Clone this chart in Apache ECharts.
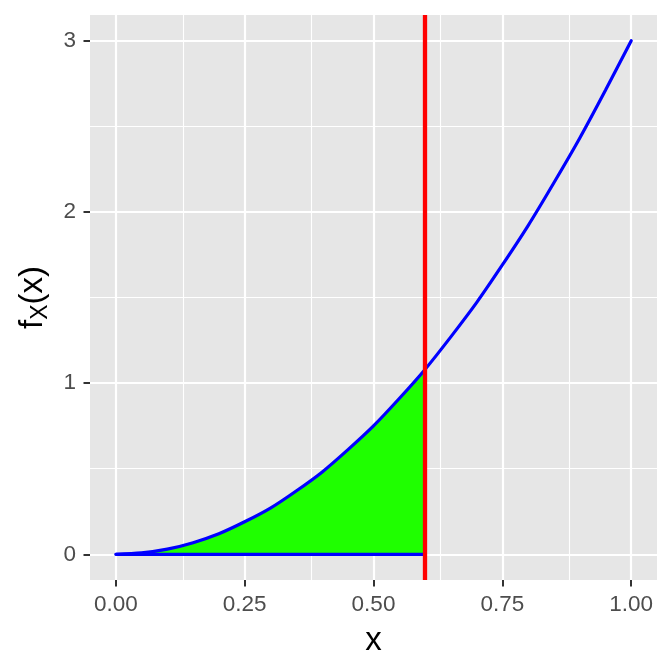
<!DOCTYPE html>
<html lang="en">
<head>
  <meta charset="UTF-8" />
  <title>f_X(x)</title>
  <script src="https://cdn.jsdelivr.net/npm/echarts@6/dist/echarts.min.js"></script>
  <style>
    html, body { margin: 0; padding: 0; background: #fff; }
    #chart { width: 672px; height: 672px; }
  </style>
</head>
<body>
  <div id="chart"></div>
<script type="text/javascript">
  // density curve
  var curveX = [0, 0.05, 0.1, 0.15, 0.2, 0.25, 0.3, 0.35, 0.4, 0.45, 0.5,
                0.55, 0.6, 0.65, 0.7, 0.75, 0.8, 0.85, 0.9, 0.95, 1.0];
  var curveY = [0, 0.008, 0.03, 0.068, 0.12, 0.19, 0.27, 0.37, 0.48, 0.61, 0.75,
                0.91, 1.08, 1.27, 1.47, 1.69, 1.92, 2.17, 2.43, 2.71, 3.0];
  // shaded part up to the cut
  var cutX = 0.6;
  var xTicks = [0, 0.25, 0.5, 0.75, 1];
  var xMinor = [0.125, 0.375, 0.625, 0.875];
  var yTicks = [0, 1, 2, 3];
  var yMinor = [0.5, 1.5, 2.5];

  var chart = echarts.init(document.getElementById('chart'));

  var curveData = curveX.map(function (x, i) { return [x, curveY[i]]; });
  var areaData = curveData.filter(function (p) { return p[0] <= cutX + 1e-9; });
  var baseData = [[0, 0], [cutX, 0]];

  // grid lines as mark lines, so they sit on the ggplot breaks
  var gridLines = []
    .concat(xMinor.map(function (v) { return { xAxis: v, lineStyle: { width: 1.1 } }; }))
    .concat(yMinor.map(function (v) { return { yAxis: v, lineStyle: { width: 1.1 } }; }))
    .concat(xTicks.map(function (v) { return { xAxis: v, lineStyle: { width: 2.2 } }; }))
    .concat(yTicks.map(function (v) { return { yAxis: v, lineStyle: { width: 2.2 } }; }));

  var fontFam = 'Liberation Sans, Arial, sans-serif';
  var tickFont = { color: '#4d4d4d', fontSize: 22.5, fontFamily: fontFam };

  var option = {
    animation: false,
    grid: {
      left: 90, top: 15, width: 567, height: 565,
      show: true, backgroundColor: '#e6e6e6', borderWidth: 0
    },
    xAxis: {
      type: 'value',
      min: -0.05, max: 1.05,
      name: 'x',
      nameLocation: 'middle',
      nameGap: 44,
      nameTextStyle: { color: '#000', fontSize: 33, fontFamily: fontFam },
      axisLine: { show: true, onZero: false, lineStyle: { color: 'rgba(0,0,0,0)' } },
      splitLine: { show: false },
      axisTick: { show: true, length: 6.5, customValues: xTicks, lineStyle: { color: '#333', width: 2 } },
      axisLabel: Object.assign({ customValues: xTicks, margin: 13, formatter: function (v) { return v.toFixed(2); } }, tickFont)
    },
    yAxis: {
      type: 'value',
      min: -0.15, max: 3.15,
      name: '{a|f}{b|X}{a|(x)}',
      nameLocation: 'middle',
      nameRotate: 90,
      nameGap: 38,
      nameTextStyle: {
        rich: {
          a: { color: '#000', fontSize: 33, fontFamily: fontFam },
          b: { color: '#000', fontSize: 23, fontFamily: fontFam, padding: [16, 0, 0, 0] }
        }
      },
      axisLine: { show: true, onZero: false, lineStyle: { color: 'rgba(0,0,0,0)' } },
      splitLine: { show: false },
      axisTick: { show: true, length: 6.5, customValues: yTicks, lineStyle: { color: '#333', width: 2 } },
      axisLabel: Object.assign({ customValues: yTicks, margin: 14 }, tickFont)
    },
    series: [
      {
        type: 'line', data: [], silent: true, z: 1,
        markLine: {
          silent: true, symbol: 'none', label: { show: false }, z: 1,
          lineStyle: { color: '#fff', type: 'solid' },
          data: gridLines
        }
      },
      {
        type: 'line', data: areaData, smooth: 0.3, symbol: 'none', z: 3,
        lineStyle: { width: 0 },
        areaStyle: { color: '#1fff00', opacity: 1, origin: 0 }
      },
      {
        type: 'line', data: baseData, symbol: 'none', z: 4,
        lineStyle: { color: '#0000ff', width: 3.2 }
      },
      {
        type: 'line', data: curveData, smooth: 0.3, symbol: 'none', z: 5,
        lineStyle: { color: '#0000ff', width: 3.2, cap: 'round' },
        markLine: {
          silent: true, symbol: 'none', label: { show: false }, z: 6,
          lineStyle: { color: '#ff0000', width: 4.3, type: 'solid' },
          data: [{ xAxis: cutX }]
        }
      }
    ]
  };

  chart.setOption(option);
</script>
</body>
</html>
